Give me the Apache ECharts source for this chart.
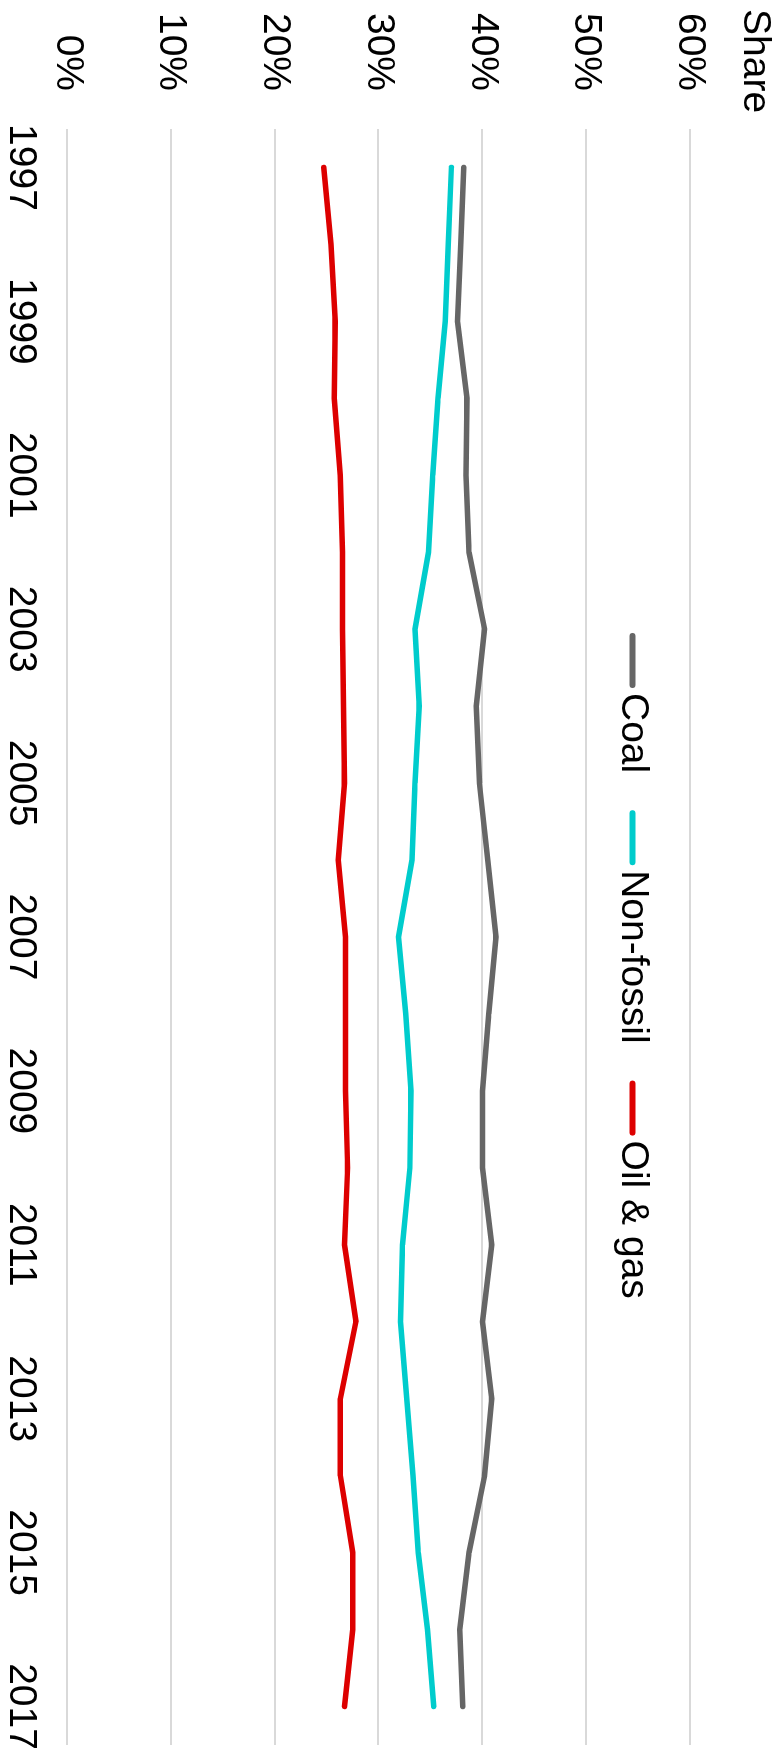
<!DOCTYPE html>
<html>
<head>
<meta charset="utf-8">
<title>Share</title>
<script src="https://cdn.jsdelivr.net/npm/echarts@6/dist/echarts.min.js"></script>
<style>
  html, body { margin: 0; padding: 0; width: 783px; height: 1754px; overflow: hidden; background: #fff; }
  /* chart is drawn landscape and turned a quarter clockwise */
  #chart {
    position: absolute; left: 0; top: 0;
    width: 1754px; height: 783px;
    transform-origin: 0 0;
    transform: translate(783px, 0) rotate(90deg);
  }
</style>
</head>
<body>
<div id="chart"></div>
<script>
var years = ['1997','1998','1999','2000','2001','2002','2003','2004','2005','2006','2007',
             '2008','2009','2010','2011','2012','2013','2014','2015','2016','2017'];
var coal = [38.2, 37.9, 37.6, 38.5, 38.4, 38.7, 40.2, 39.4, 39.7, 40.5, 41.3,
            40.6, 40.0, 40.0, 40.9, 40.0, 40.9, 40.2, 38.7, 37.8, 38.1];
var nonFossil = [37.0, 36.7, 36.4, 35.7, 35.2, 34.8, 33.5, 33.9, 33.5, 33.2, 31.9,
                 32.6, 33.1, 33.0, 32.3, 32.1, 32.7, 33.3, 33.8, 34.7, 35.3];
var oilGas = [24.7, 25.4, 25.8, 25.7, 26.3, 26.5, 26.5, 26.6, 26.7, 26.1, 26.8,
              26.8, 26.8, 27.0, 26.7, 27.8, 26.3, 26.3, 27.5, 27.5, 26.7];

var font = 'Liberation Sans, Arial, sans-serif';

function line(name, data, color) {
    return {
        name: name,
        type: 'line',
        data: data,
        symbol: 'none',
        itemStyle: { color: color },
        lineStyle: { color: color, width: 5.5, cap: 'round' }
    };
}

var myChart = echarts.init(document.getElementById('chart'));
myChart.setOption({
    animation: false,
    backgroundColor: '#ffffff',
    textStyle: { fontFamily: font },
    title: {
        text: 'Share',
        left: 4,
        top: 4,
        textStyle: { fontFamily: font, fontSize: 39, fontWeight: 'normal', color: '#000' }
    },
    legend: {
        left: 628,
        top: 126,
        // capsule shaped icon, like a short thick line with round ends
        icon: 'path://M3,0 L52,0 A3,3 0 0 1 52,6 L3,6 A3,3 0 0 1 3,0 Z',
        itemWidth: 55,
        itemHeight: 6,
        itemGap: 37,
        textStyle: { fontFamily: font, fontSize: 39, color: '#000' },
        data: ['Coal', 'Non-fossil', 'Oil & gas']
    },
    grid: {
        left: 129,
        right: 9,
        top: 93,
        bottom: 67.5,
        containLabel: false,
        outerBoundsMode: 'none'
    },
    xAxis: {
        type: 'category',
        data: years,
        boundaryGap: true,
        axisLine: { show: false },
        axisTick: { show: false },
        axisLabel: { interval: 1, margin: 27, fontFamily: font, fontSize: 39, color: '#000' }
    },
    yAxis: {
        type: 'value',
        min: 0,
        max: 60,
        interval: 10,
        axisLine: { show: false },
        axisTick: { show: false },
        axisLabel: { formatter: '{value}%', margin: 38, fontFamily: font, fontSize: 39, color: '#000' },
        splitLine: { lineStyle: { color: '#d9d9d9', width: 2 } }
    },
    series: [
        line('Coal', coal, '#666666'),
        line('Non-fossil', nonFossil, '#00cccc'),
        line('Oil & gas', oilGas, '#dd0000')
    ]
});
</script>
</body>
</html>
